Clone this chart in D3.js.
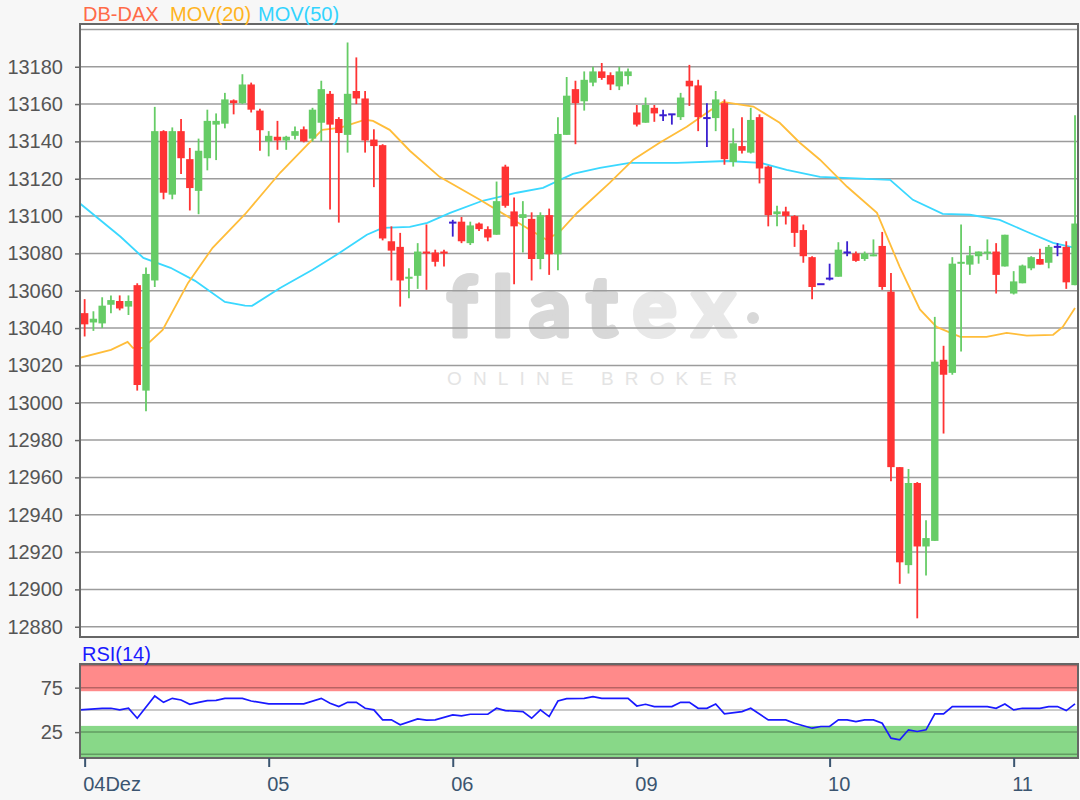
<!DOCTYPE html>
<html>
<head>
<meta charset="utf-8">
<script src="https://cdn.jsdelivr.net/npm/d3@7"></script>
<style>
body { margin: 0; background: #f7f7f7; }
svg { display: block; font-family: "Liberation Sans", Arial, sans-serif; }
</style>
</head>
<body>
<svg id="chart" width="1080" height="800"></svg>
<script>
// candle data, one entry per bar
var opens = [13048,13043,13042.5,13052.5,13054.5,13051.5,13063,13006.5,13065.5,13145.5,
  13111.5,13145.5,13130.5,13113.5,13131,13149,13149.5,13162,13160.5,13170.5,
  13156.5,13140,13142.5,13140.5,13143,13146.5,13141.5,13150,13165.5,13152,
  13143.5,13167,13163,13141,13138,13086.5,13083.5,13066.5,13068,13081,
  13080.5,13081,13096.5,13097,13085.5,13096,13093,13090,13126.5,13102.5,
  13099,13098.5,13077,13100.5,13079.5,13143.5,13168,13161.5,13171.5,13177.5,
  13175.5,13169.5,13175,13155.5,13150,13158,13154,13154.5,13153,13172.5,
  13170,13152.5,13152.5,13160.5,13129,13137.5,13134,13153,13126.5,13101,
  13102.5,13100,13092.5,13078,13063.5,13066.5,13067.5,13080.5,13080,13077,
  13078.5,13084,13059.5,12965.5,12913,12957,12923,12926,13023,13016,
  13074.5,13074,13078.5,13080,13081,13073,13058.5,13064,13072,13077,
  13075,13083.5,13083.5,13063];
var highs = [13055.5,13049,13056.5,13057.5,13057.5,13057.5,13064,13072.5,13158.5,13146,
  13147.5,13152,13136.5,13141.5,13157,13155,13166,13162.5,13176,13171.5,
  13157.5,13145.5,13151,13143,13148,13148,13158,13172.5,13167,13153,
  13193,13185,13167,13146.5,13138.5,13094.5,13091,13072,13085.5,13095.5,
  13082,13082,13098,13099.5,13097,13096.5,13094.5,13118.5,13127.5,13110,
  13108,13102,13102,13104,13153,13174.5,13172.5,13177.5,13180,13182,
  13177,13180,13179,13159.5,13163.5,13159.5,13157,13154.5,13166,13181,
  13173,13160.5,13167,13162.5,13147,13153,13158,13154.5,13127,13105.5,
  13105,13100.5,13095.5,13078.5,13063.5,13074.5,13086,13086.5,13081,13081,
  13087.5,13091.5,13069.5,12965.5,12964.5,12957.5,12937,13046,13030.5,13078,
  13095.5,13084,13081,13087.5,13085.5,13090,13070.5,13074,13078.5,13082.5,
  13084.5,13085.5,13086.5,13154];
var lows = [13035.5,13038.5,13040,13048,13049.5,13047,13006.5,12995.5,13062,13109,
  13109,13122.5,13103,13101,13124.5,13130,13147,13154.5,13160,13155.5,
  13135,13132,13135.5,13135.5,13141,13139.5,13140,13140,13103.5,13096.5,
  13134,13160,13134,13115.5,13087,13065.5,13051.5,13056,13061,13060.5,
  13073,13073,13089,13085.5,13084.5,13092,13086.5,13090,13104.5,13063.5,
  13080.5,13065.5,13071.5,13068.5,13071,13143.5,13138.5,13156.5,13169.5,13173,
  13167.5,13167.5,13170.5,13148,13150,13150.5,13151,13149,13151.5,13159,
  13145.5,13137,13145.5,13127.5,13126.5,13133.5,13133.5,13117.5,13094.5,13094.5,
  13095.5,13083.5,13075,13055.5,13063.5,13065.5,13067.5,13078.5,13075.5,13076,
  13078.5,13060.5,12958,12903,12908.5,12884.5,12907.5,12926,12983.5,13015,
  13027.5,13068.5,13074.5,13076.5,13058.5,13073,13058,13064,13071,13074,
  13072,13078.5,13061,13063];
var closes = [13042,13045,13052,13055,13050.5,13054.5,13009.5,13069,13145.5,13112.5,
  13145.5,13131,13115,13135,13151,13151,13162.5,13160.5,13170.5,13157,
  13146,13143,13140.5,13142.5,13145.5,13140,13157,13168,13149,13144.5,
  13165.5,13163,13140.5,13137.5,13088,13081.5,13065.5,13067.5,13081,13080,
  13075.5,13080,13096.5,13086.5,13095,13093,13088.5,13108,13105.5,13094.5,
  13101,13077,13100.5,13079.5,13144,13164.5,13160.5,13173,13177.5,13174,
  13170.5,13177.5,13177.5,13149,13159.5,13155,13154,13154.5,13163.5,13169.5,
  13153,13152.5,13162.5,13130.5,13139,13135,13151.5,13125.5,13100.5,13102.5,
  13100,13091,13078.5,13062,13063.5,13066.5,13082,13080.5,13076,13080,
  13079.5,13062,12965.5,12914.5,12957,12923,12927.5,13022,13015,13074.5,
  13075.5,13079,13081,13081,13068.5,13090,13065,13073.5,13078,13074,
  13083.5,13083.5,13064.5,13096];

// moving averages (index position along the bars, value)
var ma20Idx = [-0.6,3.0,4.9,5.5,6.7,8.9,11.8,14.6,18.3,22.3,25.4,27.1,29.1,32.0,32.9,34.8,37.1,
  40.5,45.1,48.9,52.7,54.2,56.2,59.9,62.6,65.6,68.7,71.0,72.8,76.3,79.3,81.6,83.9,
  87.0,90.4,93.0,95.3,97.2,99.9,102.9,105.2,107.5,110.5,111.6,113.0];
var ma20Val = [13024,13028.3,13032.6,13029.4,13029.4,13039,13064.2,13083,13101,13123.2,13138.2,13146.2,13147.3,13151.6,13151,13146.2,13135,
  13121,13108.7,13098,13087.3,13091.6,13101.8,13117.8,13130.2,13139.3,13147.8,13155.3,13161.2,13158.7,13150,13139.3,13130.2,
  13115.7,13101.7,13072.8,13050,13040.6,13035.3,13035.3,13037.4,13036,13036.4,13040.6,13050.8];
var ma50Idx = [-0.6,4.1,6.7,9.8,12.6,16.0,18.3,19.1,22.3,26.0,29.1,32.2,34.0,37.1,39.1,41.7,45.4,
  49.3,52.3,55.7,58.8,62.2,67.6,73.3,77.1,80.1,83.9,91.9,94.5,97.9,101.0,104.4,107.5,110.5,113.0];
var ma50Val = [13107,13088.9,13077.6,13072.3,13065.3,13054,13052,13051.9,13061.5,13071.2,13080.3,13090,13093.7,13094.2,13096.4,13101.7,13108.2,
  13112.5,13115.1,13122.6,13125.8,13128.5,13128.5,13129.5,13128.5,13124.8,13121,13119.4,13108.7,13101.2,13100.7,13098,13091.6,13085.7,13083];

// RSI(14)
var rsiIdx = [-0.6,2,3,4,5,6,8,9,10,11,12,13,14,15,16,18,19,21,25,27,28,29,30,31,32,33,34,35,36,38,39,40,
  42,43,44,46,47,48,50,51,52,53,54,55,57,58,59,62,63,64,65,67,68,69,70,71,72,73,75,76,78,80,81,
  83,84,85,86,87,88,89,90,91,92,93,94,95,96,97,98,99,101,103,104,105,106,107,109,110,111,112,113];
var rsiVal = [50,51.8,51.8,50,51.8,40.6,65.6,58.5,63,61.1,56.3,58.5,60.4,60.8,63,63,60,56.7,56.7,63,57.4,53.7,58.5,58.5,51.8,50,38.8,38.8,33.2,39.9,38.4,38.8,
  44.4,43.2,45.1,45.1,51.8,49.2,48.1,40.6,50,42.5,60,62.6,63,64.9,63,63,54.4,56.3,53.7,53.7,58.5,58.5,51.8,51.8,56.7,45.5,48.1,51.8,38.8,38.8,35,
  29.4,31.3,31.3,38.8,38.8,36.9,38.8,38.8,35,18.2,16.4,27.6,25.7,27.6,45.5,45.5,53.7,53.7,53.7,51.8,56.7,50,51.8,51.8,53.7,53.7,49.2,56.7];

var priceTicks = [12880,12900,12920,12940,12960,12980,13000,13020,13040,13060,13080,13100,13120,13140,13160,13180];
var gridLevels = [12880,12900,12920,12940,12960,12980,13000,13020,13040,13060,13080,13100,13120,13140,13160,13180,13200];
var rsiTicks = [25, 75];
var rsiGrid = [0, 25, 50, 75, 100];
var rsiZones = [[71, 102], [-5, 32]];
var dayTicks = [0, 21, 42, 63, 85, 106];
var dayLabels = ["04Dez", "05", "06", "09", "10", "11"];

var svg = d3.select("#chart");
var pLeft = 80, pRight = 1078, pTop = 24, pBottom = 637;
var rTop = 664, rBottom = 758;

var x = d3.scaleLinear().domain([-0.53, 113.34]).range([pLeft, pRight]);
var y = d3.scaleLinear().domain([12874.5, 13202.9]).range([pBottom, pTop]);
var ry = d3.scaleLinear().domain([-4.1, 101.6]).range([rBottom, rTop]);

svg.append("rect").attr("width", 1080).attr("height", 800).attr("fill", "#f7f7f7");

var defs = svg.append("defs");
defs.append("clipPath").attr("id", "plotClip")
  .append("rect").attr("x", pLeft).attr("y", pTop).attr("width", pRight - pLeft).attr("height", pBottom - pTop);
defs.append("clipPath").attr("id", "rsiClip")
  .append("rect").attr("x", pLeft).attr("y", rTop).attr("width", pRight - pLeft).attr("height", rBottom - rTop);

// main panel
svg.append("rect").attr("x", pLeft).attr("y", pTop).attr("width", pRight - pLeft).attr("height", pBottom - pTop).attr("fill", "#fff");

// watermark (thick rounded letters, stroke fattens them)
var wm = svg.append("g").attr("id", "watermark");
var logo = wm.append("text").attr("x", 447).attr("y", 336)
  .attr("textLength", 288).attr("lengthAdjust", "spacing")
  .style("font-family", "Lato, 'Open Sans', sans-serif").style("font-size", "82px").style("font-weight", "bold")
  .style("font-variant-ligatures", "none")
  .attr("stroke-width", 5).attr("stroke-linejoin", "round");
logo.append("tspan").attr("fill", "#d8d8d8").attr("stroke", "#d8d8d8").text("flat");
logo.append("tspan").attr("fill", "#e8e8e8").attr("stroke", "#e8e8e8").text("ex");
wm.append("circle").attr("cx", 753).attr("cy", 318).attr("r", 6).attr("fill", "#d8d8d8");
wm.append("text").attr("x", 447).attr("y", 385).attr("textLength", 290).attr("lengthAdjust", "spacing")
  .style("font-size", "19px").attr("fill", "#e4e4e4").text("ONLINE BROKER");

svg.append("g").attr("id", "gridG").selectAll("line").data(gridLevels).enter().append("line")
  .attr("x1", pLeft).attr("x2", pRight)
  .attr("y1", function(d){ return y(d); }).attr("y2", function(d){ return y(d); })
  .attr("stroke", "#9c9c9c").attr("stroke-width", 1.5);

// moving averages
var line = d3.line().x(function(d){ return x(d[0]); }).y(function(d){ return y(d[1]); });
var maG = svg.append("g").attr("clip-path", "url(#plotClip)");
maG.append("path").datum(d3.zip(ma50Idx, ma50Val)).attr("d", line)
  .attr("fill", "none").attr("stroke", "#3ad8ff").attr("stroke-width", 1.8);
maG.append("path").datum(d3.zip(ma20Idx, ma20Val)).attr("d", line)
  .attr("fill", "none").attr("stroke", "#ffbd3a").attr("stroke-width", 1.8);

// candles
function candleColor(i){
  if (closes[i] > opens[i]) return "#66cc66";
  if (closes[i] < opens[i]) return "#ff3333";
  return "#3a1fd0";
}
var candleG = svg.append("g").attr("id", "candlesG").attr("clip-path", "url(#plotClip)")
  .selectAll("g").data(d3.range(opens.length)).enter().append("g");

candleG.append("line")
  .attr("x1", function(i){ return x(i); }).attr("x2", function(i){ return x(i); })
  .attr("y1", function(i){ return y(highs[i]); }).attr("y2", function(i){ return y(lows[i]); })
  .attr("stroke", candleColor).attr("stroke-width", 1.8);

candleG.append("rect")
  .attr("x", function(i){ return x(i) - 3.7; })
  .attr("width", 7.4)
  .attr("y", function(i){
    var t = y(Math.max(opens[i], closes[i]));
    return opens[i] === closes[i] ? t - 1 : t;
  })
  .attr("height", function(i){ return Math.max(2, Math.abs(y(opens[i]) - y(closes[i]))); })
  .attr("fill", candleColor);

svg.append("rect").attr("x", pLeft).attr("y", pTop).attr("width", pRight - pLeft).attr("height", pBottom - pTop)
  .attr("fill", "none").attr("stroke", "#666").attr("stroke-width", 2);

var yAxis = d3.axisLeft(y).tickValues(priceTicks).tickSize(5).tickPadding(12).tickFormat(d3.format("d"));
var yAxisG = svg.append("g").attr("transform", "translate(" + pLeft + ",0)").call(yAxis);
yAxisG.select(".domain").remove();
yAxisG.selectAll("line").attr("stroke", "#666").attr("stroke-width", 1.5);
yAxisG.selectAll("text").attr("fill", "#555").style("font-size", "20px").style("font-family", "'Liberation Sans', Arial, sans-serif");

// header
var header = [["DB-DAX", "#ff6a48", 83], ["MOV(20)", "#ffb41e", 170], ["MOV(50)", "#33d4ff", 258]];
svg.selectAll("text.hdr").data(header).enter().append("text").attr("class", "hdr")
  .attr("x", function(d){ return d[2]; }).attr("y", 21)
  .attr("fill", function(d){ return d[1]; })
  .style("font-size", "20px").text(function(d){ return d[0]; });

// RSI panel
svg.append("rect").attr("x", pLeft).attr("y", rTop).attr("width", pRight - pLeft).attr("height", rBottom - rTop).attr("fill", "#fff");
var rsiG = svg.append("g").attr("clip-path", "url(#rsiClip)");
rsiG.selectAll("rect").data(rsiZones).enter().append("rect")
  .attr("x", pLeft).attr("width", pRight - pLeft)
  .attr("y", function(d){ return ry(d[1]); })
  .attr("height", function(d){ return ry(d[0]) - ry(d[1]); })
  .attr("fill", function(d, i){ return i === 0 ? "#ff8a8a" : "#88d888"; });
rsiG.selectAll("line").data(rsiGrid).enter().append("line")
  .attr("x1", pLeft).attr("x2", pRight)
  .attr("y1", function(d){ return ry(d); }).attr("y2", function(d){ return ry(d); })
  .attr("stroke", "#000").attr("stroke-opacity", 0.28).attr("stroke-width", 1.5);
rsiG.append("path").datum(d3.zip(rsiIdx, rsiVal))
  .attr("d", d3.line().x(function(d){ return x(d[0]); }).y(function(d){ return ry(d[1]); }))
  .attr("fill", "none").attr("stroke", "#1a1aff").attr("stroke-width", 1.7);
svg.append("rect").attr("x", pLeft).attr("y", rTop).attr("width", pRight - pLeft).attr("height", rBottom - rTop)
  .attr("fill", "none").attr("stroke", "#666").attr("stroke-width", 2);

var rAxis = d3.axisLeft(ry).tickValues(rsiTicks).tickSize(5).tickPadding(12);
var rAxisG = svg.append("g").attr("transform", "translate(" + pLeft + ",0)").call(rAxis);
rAxisG.select(".domain").remove();
rAxisG.selectAll("line").attr("stroke", "#666").attr("stroke-width", 1.5);
rAxisG.selectAll("text").attr("fill", "#555").style("font-size", "20px").style("font-family", "'Liberation Sans', Arial, sans-serif");

svg.append("text").attr("x", 82).attr("y", 661).attr("fill", "#1a1aff").style("font-size", "20px").text("RSI(14)");

// x axis with day labels
var xAxis = d3.axisBottom(x).tickValues(dayTicks).tickSize(9).tickPadding(10)
  .tickFormat(function(d, i){ return dayLabels[i]; });
var xAxisG = svg.append("g").attr("transform", "translate(0," + rBottom + ")").call(xAxis);
xAxisG.select(".domain").remove();
xAxisG.selectAll("line").attr("stroke", "#3b5570").attr("stroke-width", 2);
xAxisG.selectAll("text").attr("fill", "#3b5570").attr("text-anchor", "start").attr("dx", "-2")
  .style("font-size", "20px").style("font-family", "'Liberation Sans', Arial, sans-serif");
</script>
</body>
</html>
